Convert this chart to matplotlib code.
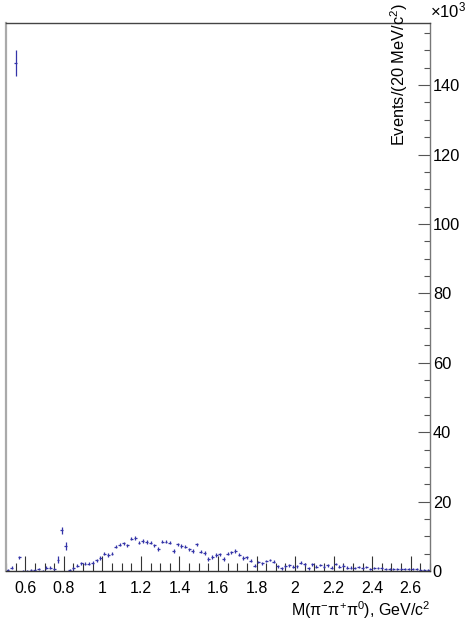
import matplotlib
matplotlib.use("Agg")
import matplotlib.pyplot as plt
from matplotlib.ticker import MultipleLocator
import numpy as np

plt.rcParams['font.family'] = ['Liberation Sans', 'DejaVu Sans']
plt.rcParams['mathtext.fontset'] = 'custom'
plt.rcParams['mathtext.rm'] = 'Liberation Sans'
plt.rcParams['mathtext.it'] = 'Liberation Sans:italic'
plt.rcParams['mathtext.bf'] = 'Liberation Sans:bold'

# bin centres (20 MeV bins from 0.50 to 2.70 GeV)
mass = [0.51, 0.53, 0.55, 0.57, 0.59, 0.61, 0.63, 0.65, 0.67, 0.69,
        0.71, 0.73, 0.75, 0.77, 0.79, 0.81, 0.83, 0.85, 0.87, 0.89,
        0.91, 0.93, 0.95, 0.97, 0.99, 1.01, 1.03, 1.05, 1.07, 1.09,
        1.11, 1.13, 1.15, 1.17, 1.19, 1.21, 1.23, 1.25, 1.27, 1.29,
        1.31, 1.33, 1.35, 1.37, 1.39, 1.41, 1.43, 1.45, 1.47, 1.49,
        1.51, 1.53, 1.55, 1.57, 1.59, 1.61, 1.63, 1.65, 1.67, 1.69,
        1.71, 1.73, 1.75, 1.77, 1.79, 1.81, 1.83, 1.85, 1.87, 1.89,
        1.91, 1.93, 1.95, 1.97, 1.99, 2.01, 2.03, 2.05, 2.07, 2.09,
        2.11, 2.13, 2.15, 2.17, 2.19, 2.21, 2.23, 2.25, 2.27, 2.29,
        2.31, 2.33, 2.35, 2.37, 2.39, 2.41, 2.43, 2.45, 2.47, 2.49,
        2.51, 2.53, 2.55, 2.57, 2.59, 2.61, 2.63, 2.65, 2.67, 2.69]

# events per bin, in units of 10^3
events = [0.3, 0.9, 146.4, 3.9, 0.1, 0.1, 0.3, 0.2, 0.6, 0.1,
          0.9, 1.0, 0.6, 3.2, 11.8, 7.2, 0.3, 0.8, 1.5, 2.2,
          2.1, 2.1, 2.4, 3.1, 3.7, 5.0, 4.6, 5.0, 7.0, 7.6,
          8.0, 7.4, 9.3, 9.5, 8.2, 8.7, 8.4, 8.2, 7.4, 6.4,
          8.5, 8.5, 8.2, 5.7, 7.7, 7.2, 7.0, 6.2, 5.8, 7.7,
          5.6, 5.2, 3.4, 4.1, 4.6, 4.8, 3.5, 5.0, 5.4, 5.7,
          4.7, 3.7, 3.9, 3.0, 1.5, 2.6, 2.2, 2.9, 3.2, 2.7,
          1.4, 0.8, 1.4, 1.6, 1.2, 1.4, 2.4, 1.9, 0.8, 1.9,
          1.2, 1.7, 1.2, 1.6, 1.0, 2.0, 1.2, 1.5, 1.0, 1.0,
          0.9, 1.1, 0.9, 1.1, 0.6, 0.9, 0.8, 0.8, 0.7, 0.7,
          0.7, 0.7, 0.6, 0.6, 0.5, 0.7, 0.6, 0.4, 0.2, 0.2]

errors = [0.3, 0.4, 3.7, 0.5, 0.3, 0.3, 0.3, 0.3, 0.3, 0.3,
          0.4, 0.4, 0.4, 1.0, 1.0, 1.1, 0.4, 0.4, 0.4, 0.4,
          0.4, 0.4, 0.4, 0.5, 0.5, 0.5, 0.5, 0.5, 0.5, 0.5,
          0.5, 0.5, 0.5, 0.5, 0.5, 0.5, 0.5, 0.5, 0.5, 0.5,
          0.5, 0.5, 0.5, 0.5, 0.5, 0.5, 0.5, 0.5, 0.5, 0.5,
          0.5, 0.5, 0.5, 0.5, 0.5, 0.5, 0.5, 0.5, 0.5, 0.5,
          0.5, 0.5, 0.5, 0.5, 0.4, 0.4, 0.4, 0.4, 0.4, 0.4,
          0.4, 0.4, 0.4, 0.4, 0.4, 0.4, 0.4, 0.4, 0.4, 0.4,
          0.4, 0.4, 0.4, 0.4, 0.4, 0.4, 0.4, 0.4, 0.4, 0.4,
          0.3, 0.3, 0.3, 0.3, 0.3, 0.3, 0.3, 0.3, 0.3, 0.3,
          0.3, 0.3, 0.3, 0.3, 0.3, 0.3, 0.3, 0.3, 0.3, 0.3]

x_ticks = [0.6, 0.8, 1.0, 1.2, 1.4, 1.6, 1.8, 2.0, 2.2, 2.4, 2.6]
x_tick_labels = ['0.6', '0.8', '1', '1.2', '1.4', '1.6', '1.8', '2', '2.2', '2.4', '2.6']
y_ticks = [0, 20, 40, 60, 80, 100, 120, 140]

W, H = 466, 627
fig = plt.figure(figsize=(W / 100, H / 100), dpi=100)
ax = fig.add_axes([6 / W, 1 - 571 / H, (430 - 6) / W, (571 - 23) / H])

point_color = '#3434a8'
ax.errorbar(mass, events, yerr=errors, xerr=0.0075, fmt='none',
            ecolor=point_color, elinewidth=0.9, capsize=0)

ax.set_xlim(0.5, 2.7)
ax.set_ylim(0, 157.9)

ax.set_xticks(x_ticks)
ax.set_xticklabels(x_tick_labels)
ax.xaxis.set_minor_locator(MultipleLocator(0.05))
ax.set_yticks(y_ticks)
ax.yaxis.set_minor_locator(MultipleLocator(5))

ax.yaxis.tick_right()
ax.tick_params(axis='x', which='major', direction='in', length=11, width=0.8,
               labelsize=11.5, pad=7, color='#333333')
ax.tick_params(axis='x', which='minor', direction='in', length=5.5, width=0.8,
               color='#333333')
ax.tick_params(axis='y', which='major', direction='in', length=8.5, width=0.8,
               labelsize=11.8, pad=2, color='#555555', left=False, right=True)
ax.tick_params(axis='y', which='minor', direction='in', length=4.3, width=0.8,
               color='#555555', left=False, right=True)

ax.spines['left'].set_color('#aaaaaa')
ax.spines['left'].set_linewidth(1.6)
ax.spines['top'].set_color('#444444')
ax.spines['top'].set_linewidth(1.0)
ax.spines['right'].set_color('#777777')
ax.spines['right'].set_linewidth(1.0)
ax.spines['bottom'].set_color('#333333')
ax.spines['bottom'].set_linewidth(1.0)

fig.text(430 / W, 1 - 610 / H, r'M($\mathrm{\pi^{-}\pi^{+}\pi^{0}}$), GeV/c$^{2}$',
         ha='right', va='center', fontsize=11.5)
fig.text(399 / W, 1 - 3 / H, r'Events/(20 MeV/c$^{2}$)', rotation=90,
         ha='center', va='top', fontsize=11.8)
fig.text(430 / W, 1 - 10 / H, r'$\times$10$^{3}$', ha='left', va='center',
         fontsize=12)

fig.savefig('out.png', dpi=100)
